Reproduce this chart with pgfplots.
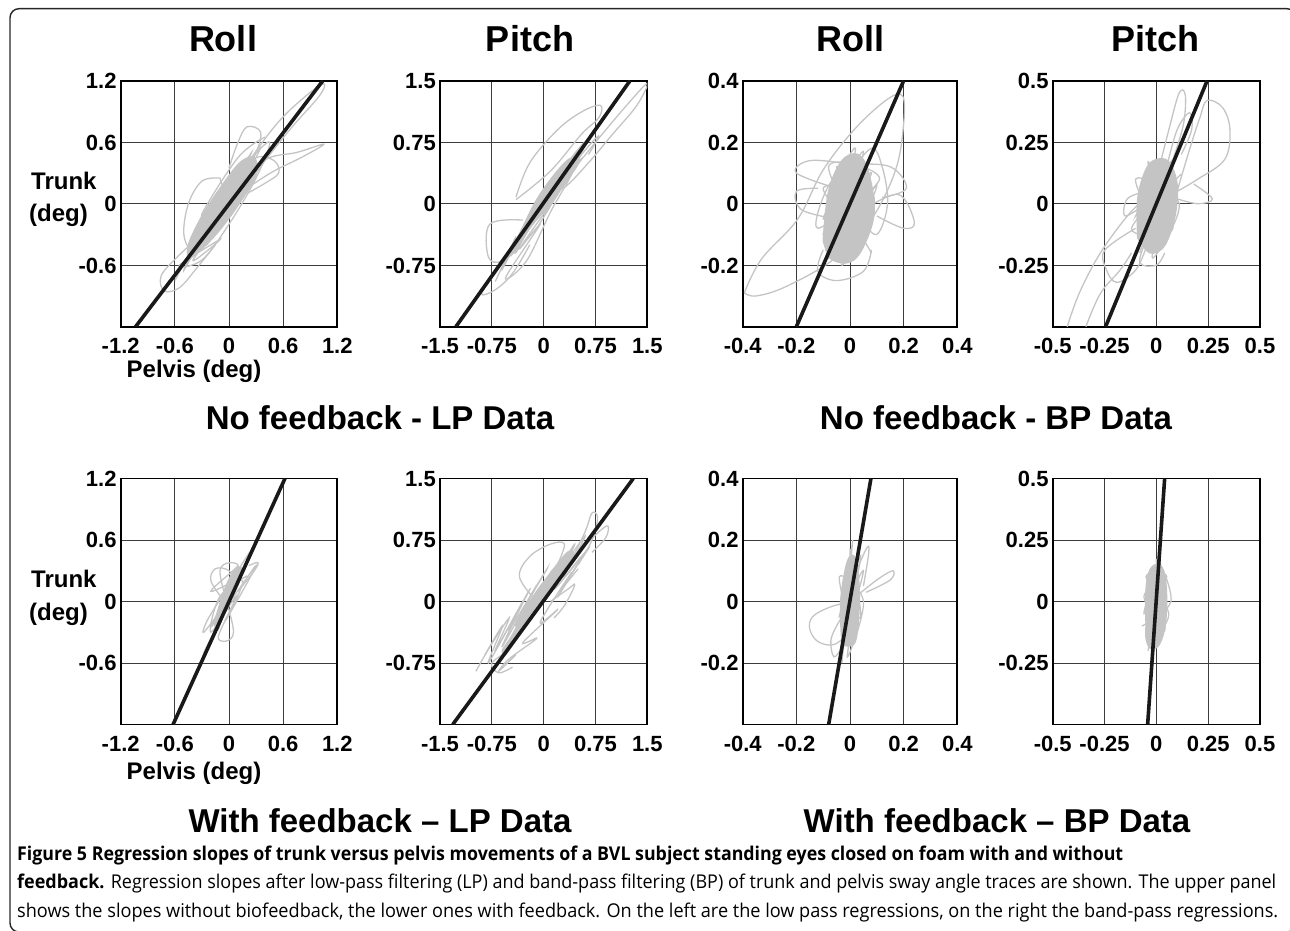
\documentclass[border=0pt]{standalone}
\usepackage{pgfplots}
\pgfplotsset{compat=1.18}
\usepackage{fontspec}
\setmainfont{Liberation Sans}
\newfontfamily\capfont{Open Sans}
\definecolor{tracec}{RGB}{196,196,196}
\definecolor{gridc}{RGB}{60,60,60}
\definecolor{regc}{RGB}{25,25,25}
\pgfplotsset{
 panel/.style={scale only axis, anchor=south west, axis line style={line width=1.7pt},
   grid=major, major grid style={gridc, line width=0.9pt}, major tick length=0pt,
   typeset ticklabels with strut,
   tick label style={font=\fontsize{22}{22}\selectfont\bfseries},
   xticklabel style={anchor=north, inner sep=0pt, yshift=-11pt},
   yticklabel style={anchor=east, inner sep=0pt, xshift=-4pt, yshift=-3.5pt}, clip=true},
 trc/.style={color=tracec, line width=1.3pt, smooth, tension=0.6, no marks},
 trf/.style={color=tracec, fill=tracec, line width=1.3pt, smooth, tension=0.6, no marks},
 reg/.style={color=regc, line width=3.6pt, no marks},
}
\begin{document}
\begin{tikzpicture}[x=1pt,y=1pt]
\path[use as bounding box] (0,0) rectangle (1290,930);
\begin{scope}
\clip (0,0) rectangle (1290,930);
\draw[line width=1.4pt, black!85, rounded corners=9pt] (10,-2) rectangle (1296,921.3);
\end{scope}

% ---------- Panel 1: Roll LP no feedback
\begin{axis}[panel, at={(120.7pt,603.3pt)}, width=216.6pt, height=246pt,
  xmin=-1.2,xmax=1.2,ymin=-1.2,ymax=1.2,
  xtick={-1.2,-0.6,0,0.6,1.2}, ytick={-1.2,-0.6,0,0.6,1.2},
  xticklabels={-1.2,-0.6,0,0.6,1.2}, yticklabels={,-0.6,0,0.6,1.2}]
\addplot[trc] coordinates {(0.0,0.1) (0.25,0.45) (0.55,0.8) (0.85,1.05) (1.05,1.17) (1.0,1.05) (0.7,0.75) (0.4,0.42) (0.15,0.12) (0.0,0.1)};
\addplot[trc] coordinates {(0.15,0.3) (0.45,0.45) (0.75,0.5) (1.05,0.58) (0.8,0.45) (0.5,0.32) (0.25,0.18)};
\addplot[trc] coordinates {(-0.1,0.25) (-0.3,0.22) (-0.45,0.0) (-0.5,-0.3) (-0.4,-0.45) (-0.2,-0.3) (-0.05,0.0) (-0.1,0.25)};
\addplot[trc] coordinates {(-0.3,-0.3) (-0.55,-0.5) (-0.75,-0.7) (-0.72,-0.85) (-0.55,-0.82) (-0.35,-0.62) (-0.15,-0.4)};
\addplot[trc] coordinates {(0.0,0.35) (0.1,0.6) (0.2,0.75) (0.35,0.7) (0.3,0.5) (0.15,0.3)};
\addplot[trc] coordinates {(0.2,0.1) (0.4,0.2) (0.55,0.3) (0.5,0.42) (0.3,0.45) (0.1,0.25)};
\addplot[trf] coordinates {(-0.45,-0.55) (-0.25,-0.4) (-0.05,-0.2) (0.15,0.05) (0.3,0.28) (0.28,0.45) (0.12,0.4) (-0.1,0.15) (-0.3,-0.12) (-0.45,-0.4) (-0.45,-0.55)};
\addplot[trc] coordinates {(-0.6,-0.75) (-0.35,-0.35) (-0.5,-0.65) (-0.2,-0.15) (-0.45,-0.45) (-0.05,0.1) (-0.3,-0.3) (0.1,0.35) (-0.15,-0.05) (0.25,0.5) (0.0,0.1) (0.35,0.55) (0.1,0.1) (0.3,0.3) (-0.1,-0.2) (0.2,0.15) (-0.25,-0.4) (0.05,-0.05) (-0.4,-0.55) (-0.1,-0.35) (-0.55,-0.6) (-0.3,-0.55) (0.0,-0.2) (0.3,0.25) (0.45,0.6) (0.2,0.4) (-0.1,0.05) (-0.3,-0.1) (0.1,0.45) (0.4,0.65)};
\addplot[reg] coordinates {(-1.035,-1.2) (1.04,1.2)};
\end{axis}

% ---------- Panel 2: Pitch LP no feedback
\begin{axis}[panel, at={(440pt,603.3pt)}, width=207.3pt, height=246pt,
  xmin=-1.5,xmax=1.5,ymin=-1.5,ymax=1.5,
  xtick={-1.5,-0.75,0,0.75,1.5}, ytick={-1.5,-0.75,0,0.75,1.5},
  xticklabels={-1.5,-0.75,0,0.75,1.5}, yticklabels={,-0.75,0,0.75,1.5}]
\addplot[trc] coordinates {(0.1,0.2) (0.45,0.45) (0.8,0.8) (1.15,1.15) (1.5,1.47) (1.35,1.2) (1.0,0.85) (0.65,0.5) (0.3,0.2) (0.1,0.2)};
\addplot[trc] coordinates {(-0.4,0.08) (-0.2,0.5) (0.2,0.9) (0.55,1.12) (0.82,1.2) (0.8,1.05) (0.55,0.85) (0.1,0.4) (-0.4,0.05)};
\addplot[trc] coordinates {(-0.3,-0.2) (-0.78,-0.25) (-0.8,-0.65) (-0.6,-0.7) (-0.3,-0.5)};
\addplot[trc] coordinates {(-0.4,-0.5) (-0.7,-0.85) (-0.9,-1.1) (-0.7,-1.05) (-0.45,-0.85) (-0.2,-0.5)};
\addplot[trc] coordinates {(0.45,0.5) (0.7,0.75) (0.8,0.82) (0.65,0.6)};
\addplot[trf] coordinates {(-0.4,-0.6) (-0.2,-0.3) (0.1,0.0) (0.35,0.3) (0.5,0.5) (0.38,0.55) (0.15,0.35) (-0.1,0.05) (-0.3,-0.28) (-0.45,-0.55) (-0.4,-0.6)};
\addplot[trc] coordinates {(-0.7,-0.95) (-0.4,-0.4) (-0.6,-0.8) (-0.2,-0.15) (-0.45,-0.6) (0.0,0.1) (-0.3,-0.35) (0.2,0.35) (-0.1,-0.05) (0.35,0.5) (0.05,0.1) (0.5,0.65) (0.2,0.2) (0.55,0.55) (0.1,0.0) (0.3,0.25) (-0.1,-0.3) (0.15,0.05) (-0.35,-0.55) (-0.05,-0.25) (-0.55,-0.9) (-0.25,-0.7) (0.1,-0.1) (0.4,0.35) (0.6,0.75) (0.3,0.45)};
\addplot[reg] coordinates {(-1.27,-1.5) (1.25,1.5)};
\end{axis}

% ---------- Panel 3: Roll BP no feedback
\begin{axis}[panel, at={(742.7pt,603.3pt)}, width=214.6pt, height=246pt,
  xmin=-0.4,xmax=0.4,ymin=-0.4,ymax=0.4,
  xtick={-0.4,-0.2,0,0.2,0.4}, ytick={-0.4,-0.2,0,0.2,0.4},
  xticklabels={-0.4,-0.2,0,0.2,0.4}, yticklabels={,-0.2,0,0.2,0.4}]
\addplot[trc] coordinates {(-0.394,-0.29) (-0.33,-0.18) (-0.195,-0.05) (-0.1,0.11) (0.02,0.245) (0.14,0.34) (0.196,0.35) (0.2,0.26) (0.17,0.11) (0.08,-0.05) (-0.06,-0.18) (-0.24,-0.27) (-0.35,-0.3) (-0.394,-0.29)};
\addplot[trc] coordinates {(-0.05,0.05) (-0.2,0.1) (-0.15,0.14) (0.0,0.13) (0.15,0.12) (0.21,0.05) (0.12,0.02)};
\addplot[trc] coordinates {(0.05,-0.02) (0.18,0.03) (0.24,-0.06) (0.2,-0.08) (0.1,-0.04)};
\addplot[trc] coordinates {(-0.05,-0.05) (-0.18,-0.02) (-0.2,0.04) (-0.12,0.05)};
\addplot[trc] coordinates {(-0.1,-0.15) (-0.12,-0.22) (-0.05,-0.25) (0.05,-0.22) (0.08,-0.15)};
\addplot[trc] coordinates {(0.0,0.1) (0.08,0.18) (0.12,0.12) (0.14,0.0) (0.1,-0.1) (0.04,-0.05)};
\addplot[trf] coordinates {(-0.1,-0.12) (-0.08,0.04) (-0.03,0.14) (0.03,0.16) (0.07,0.1) (0.09,-0.03) (0.05,-0.14) (0.0,-0.19) (-0.07,-0.18) (-0.1,-0.12)};
\addplot[trc] coordinates {(-0.08,-0.18) (0.0,0.15) (-0.06,-0.12) (0.05,0.17) (-0.1,-0.05) (0.08,0.1) (-0.09,-0.15) (0.03,0.05) (-0.03,-0.2) (0.09,0.02) (-0.1,0.05) (0.06,-0.12) (-0.05,0.12) (0.07,-0.05) (-0.07,0.0) (0.02,0.18) (-0.04,-0.1) (0.1,0.06) (-0.02,-0.17) (0.04,0.12) (-0.1,-0.1) (0.05,0.0) (-0.06,0.08) (-0.12,-0.08) (0.11,0.08) (-0.08,0.12) (0.08,-0.16)};
\addplot[reg] coordinates {(-0.2,-0.4) (0.2,0.4)};
\end{axis}

% ---------- Panel 4: Pitch BP no feedback
\begin{axis}[panel, at={(1052.7pt,603.3pt)}, width=207.3pt, height=246pt,
  xmin=-0.5,xmax=0.5,ymin=-0.5,ymax=0.5,
  xtick={-0.5,-0.25,0,0.25,0.5}, ytick={-0.5,-0.25,0,0.25,0.5},
  xticklabels={-0.5,-0.25,0,0.25,0.5}, yticklabels={,-0.25,0,0.25,0.5}]
\addplot[trc] coordinates {(0.0,0.1) (0.06,0.3) (0.11,0.45) (0.14,0.44) (0.13,0.32) (0.08,0.18)};
\addplot[trc] coordinates {(0.05,0.15) (0.1,0.3) (0.16,0.37) (0.17,0.3) (0.12,0.2)};
\addplot[trc] coordinates {(0.1,0.05) (0.2,0.1) (0.33,0.18) (0.355,0.3) (0.32,0.39) (0.245,0.42) (0.21,0.35) (0.16,0.22) (0.1,0.05)};
\addplot[trc] coordinates {(0.1,0.02) (0.2,0.0) (0.27,0.02) (0.18,0.08)};
\addplot[trc] coordinates {(-0.43,-0.5) (-0.37,-0.36) (-0.27,-0.2) (-0.14,-0.05) (-0.06,0.015)};
\addplot[trc] coordinates {(-0.34,-0.5) (-0.27,-0.365) (-0.175,-0.27) (-0.12,-0.2)};
\addplot[trc] coordinates {(-0.1,-0.1) (-0.25,-0.19) (-0.24,-0.27) (-0.19,-0.32) (-0.1,-0.27) (-0.05,-0.18)};
\addplot[trc] coordinates {(-0.05,-0.15) (-0.08,-0.24) (0.0,-0.25) (0.04,-0.2)};
\addplot[trc] coordinates {(-0.05,0.0) (-0.15,-0.05) (-0.14,0.02) (-0.05,0.05)};
\addplot[trf] coordinates {(-0.09,-0.14) (-0.09,0.02) (-0.05,0.14) (0.0,0.18) (0.06,0.17) (0.1,0.08) (0.09,-0.05) (0.04,-0.17) (-0.03,-0.2) (-0.09,-0.14)};
\addplot[trc] coordinates {(-0.08,-0.2) (0.05,0.15) (-0.1,-0.05) (0.08,0.18) (-0.07,0.0) (0.1,0.05) (-0.05,-0.15) (0.06,0.1) (-0.02,-0.22) (0.11,0.0) (-0.1,0.1) (0.04,-0.15) (-0.04,0.17) (0.08,-0.1) (-0.12,-0.1) (0.12,0.12)};
\addplot[reg] coordinates {(-0.245,-0.5) (0.245,0.5)};
\end{axis}

% ---------- Panel 5: Roll LP with feedback
\begin{axis}[panel, at={(120.7pt,205.5pt)}, width=216.6pt, height=246pt,
  xmin=-1.2,xmax=1.2,ymin=-1.2,ymax=1.2,
  xtick={-1.2,-0.6,0,0.6,1.2}, ytick={-1.2,-0.6,0,0.6,1.2},
  xticklabels={-1.2,-0.6,0,0.6,1.2}, yticklabels={,-0.6,0,0.6,1.2}]
\addplot[trf] coordinates {(-0.12,-0.28) (-0.04,-0.08) (0.08,0.12) (0.15,0.3) (0.08,0.33) (-0.02,0.18) (-0.1,-0.02) (-0.16,-0.22) (-0.12,-0.28)};
\addplot[trc] coordinates {(-0.28,-0.5) (0.05,0.1) (-0.2,-0.25) (0.1,0.3) (-0.15,-0.05) (0.25,0.5) (0.0,0.0) (0.3,0.35) (-0.05,-0.2) (0.15,0.2) (-0.2,0.1) (0.1,0.35) (-0.1,0.3) (0.05,-0.3) (-0.12,-0.35) (0.08,0.05) (-0.2,-0.3) (-0.1,0.05) (0.2,0.25)};
\addplot[trc] coordinates {(-0.05,0.0) (-0.2,0.2) (-0.15,0.32) (0.0,0.3) (0.1,0.15)};
\addplot[trc] coordinates {(0.1,0.1) (0.28,0.3) (0.32,0.38) (0.22,0.35)};
\addplot[trc] coordinates {(-0.1,-0.1) (-0.28,-0.3) (-0.25,-0.2) (-0.15,-0.05)};
\addplot[reg] coordinates {(-0.62,-1.2) (0.62,1.2)};
\end{axis}

% ---------- Panel 6: Pitch LP with feedback
\begin{axis}[panel, at={(440pt,205.5pt)}, width=207.3pt, height=246pt,
  xmin=-1.5,xmax=1.5,ymin=-1.5,ymax=1.5,
  xtick={-1.5,-0.75,0,0.75,1.5}, ytick={-1.5,-0.75,0,0.75,1.5},
  xticklabels={-1.5,-0.75,0,0.75,1.5}, yticklabels={,-0.75,0,0.75,1.5}]
\addplot[trf] coordinates {(-0.55,-0.65) (-0.25,-0.3) (0.05,0.05) (0.3,0.35) (0.45,0.55) (0.35,0.6) (0.1,0.35) (-0.2,0.0) (-0.45,-0.4) (-0.6,-0.6) (-0.55,-0.65)};
\addplot[trc] coordinates {(-0.98,-0.85) (-0.6,-0.3) (-0.8,-0.75) (-0.3,0.0) (-0.6,-0.55) (-0.1,0.2) (-0.4,-0.3) (0.1,0.35) (-0.2,-0.1) (0.3,0.55) (0.0,0.1) (0.45,0.7) (0.15,0.15) (0.55,0.55) (0.2,0.05) (0.4,0.35) (-0.05,-0.25) (0.2,-0.1) (-0.3,-0.5) (-0.1,-0.45) (-0.5,-0.7) (-0.65,-0.85) (-0.4,-0.65)};
\addplot[trc] coordinates {(-0.85,-0.65) (-0.5,-0.2) (-0.7,-0.6) (-0.2,0.15) (-0.5,-0.35) (0.05,0.4) (-0.25,-0.05) (0.35,0.6) (0.05,0.15) (0.6,0.8) (0.3,0.3) (0.65,0.65) (0.25,0.15) (0.5,0.4)};
\addplot[trc] coordinates {(0.4,0.5) (0.6,0.85) (0.7,1.08) (0.78,1.02) (0.7,0.75) (0.5,0.45)};
\addplot[trc] coordinates {(0.5,0.6) (0.8,0.85) (0.93,0.92) (0.9,0.78) (0.7,0.6)};
\addplot[trc] coordinates {(-0.1,0.0) (-0.35,0.3) (-0.2,0.55) (0.1,0.7) (0.3,0.7) (0.2,0.45)};
\addplot[trc] coordinates {(0.1,0.0) (0.35,0.15) (0.45,0.2) (0.3,-0.05) (0.15,-0.2)};
\addplot[trc] coordinates {(-0.5,-0.6) (-0.75,-0.75) (-0.65,-0.87) (-0.45,-0.8)};
\addplot[reg] coordinates {(-1.316,-1.5) (1.297,1.5)};
\end{axis}

% ---------- Panel 7: Roll BP with feedback
\begin{axis}[panel, at={(742.7pt,205.5pt)}, width=214.6pt, height=246pt,
  xmin=-0.4,xmax=0.4,ymin=-0.4,ymax=0.4,
  xtick={-0.4,-0.2,0,0.2,0.4}, ytick={-0.4,-0.2,0,0.2,0.4},
  xticklabels={-0.4,-0.2,0,0.2,0.4}, yticklabels={,-0.2,0,0.2,0.4}]
\addplot[trf] coordinates {(-0.03,-0.14) (-0.035,0.0) (-0.01,0.13) (0.02,0.14) (0.035,0.02) (0.02,-0.13) (-0.03,-0.14)};
\addplot[trc] coordinates {(-0.03,-0.2) (0.01,0.2) (-0.02,-0.1) (0.04,0.15) (-0.04,-0.05) (0.05,0.1) (-0.03,-0.15) (0.03,0.05) (-0.01,-0.18) (0.05,0.0) (-0.04,0.08) (0.02,-0.12) (0.0,0.17) (0.04,-0.05) (-0.02,0.02)};
\addplot[trc] coordinates {(0.0,0.05) (0.06,0.17) (0.07,0.16) (0.05,0.05)};
\addplot[trc] coordinates {(0.0,0.0) (0.1,0.07) (0.16,0.1) (0.15,0.07) (0.06,0.03)};
\addplot[trc] coordinates {(0.0,0.0) (-0.08,-0.02) (-0.14,-0.05) (-0.15,-0.09) (-0.12,-0.13) (-0.06,-0.14) (0.0,-0.1)};
\addplot[trc] coordinates {(-0.03,-0.05) (-0.07,-0.12) (-0.06,-0.18) (-0.03,-0.15)};
\addplot[reg] coordinates {(-0.0795,-0.4) (0.078,0.4)};
\end{axis}

% ---------- Panel 8: Pitch BP with feedback
\begin{axis}[panel, at={(1052.7pt,205.5pt)}, width=207.3pt, height=246pt,
  xmin=-0.5,xmax=0.5,ymin=-0.5,ymax=0.5,
  xtick={-0.5,-0.25,0,0.25,0.5}, ytick={-0.5,-0.25,0,0.25,0.5},
  xticklabels={-0.5,-0.25,0,0.25,0.5}, yticklabels={,-0.25,0,0.25,0.5}]
\addplot[trf] coordinates {(-0.05,-0.1) (-0.05,0.05) (-0.03,0.13) (0.01,0.15) (0.04,0.11) (0.05,0.0) (0.04,-0.11) (0.01,-0.18) (-0.03,-0.19) (-0.05,-0.15) (-0.05,-0.1)};
\addplot[trc] coordinates {(-0.04,-0.2) (0.02,0.16) (-0.06,-0.05) (0.05,0.1) (-0.05,0.1) (0.06,-0.05) (-0.03,-0.15) (0.03,0.05) (-0.06,0.02) (0.04,-0.12) (0.0,0.17) (0.07,0.0) (-0.07,-0.1)};
\addplot[reg] coordinates {(-0.042,-0.5) (0.04,0.5)};
\end{axis}

% ---------- Texts
\node[anchor=base] at (223,878) {\fontsize{36}{36}\selectfont\bfseries Roll};
\node[anchor=base] at (530,878) {\fontsize{36}{36}\selectfont\bfseries Pitch};
\node[anchor=base] at (850,878) {\fontsize{36}{36}\selectfont\bfseries Roll};
\node[anchor=base] at (1155,878) {\fontsize{36}{36}\selectfont\bfseries Pitch};

\node[anchor=base west, inner sep=0pt] at (31,740.7) {\fontsize{24}{24}\selectfont\bfseries Trunk};
\node[anchor=base west, inner sep=0pt] at (29,708.3) {\fontsize{24}{24}\selectfont\bfseries (deg)};
\node[anchor=base west, inner sep=0pt] at (31,342.5) {\fontsize{24}{24}\selectfont\bfseries Trunk};
\node[anchor=base west, inner sep=0pt] at (29,310) {\fontsize{24}{24}\selectfont\bfseries (deg)};
\node[anchor=base] at (194,552) {\fontsize{24}{24}\selectfont\bfseries Pelvis (deg)};
\node[anchor=base] at (194,151) {\fontsize{24}{24}\selectfont\bfseries Pelvis (deg)};

\node[anchor=base] at (380,500) {\fontsize{33}{33}\selectfont\bfseries No feedback - LP Data};
\node[anchor=base] at (996,500) {\fontsize{33}{33}\selectfont\bfseries No feedback - BP Data};
\node[anchor=base] at (380,98) {\fontsize{33}{33}\selectfont\bfseries With feedback -- LP Data};
\node[anchor=base] at (997,98) {\fontsize{33}{33}\selectfont\bfseries With feedback -- BP Data};

\node[anchor=base west, inner sep=0pt] at (17,70) {\resizebox{1106pt}{\height}{\capfont\fontsize{19}{19}\selectfont\bfseries Figure 5 Regression slopes of trunk versus pelvis movements of a BVL subject standing eyes closed on foam with and without}};
\node[anchor=base west, inner sep=0pt] at (17,41.5) {\resizebox{1259pt}{\height}{\capfont\fontsize{19}{19}\selectfont\textbf{feedback.} Regression slopes after low-pass filtering (LP) and band-pass filtering (BP) of trunk and pelvis sway angle traces are shown. The upper panel}};
\node[anchor=base west, inner sep=0pt] at (17,13) {\resizebox{1261pt}{\height}{\capfont\fontsize{19}{19}\selectfont shows the slopes without biofeedback, the lower ones with feedback. On the left are the low pass regressions, on the right the band-pass regressions.}};
\end{tikzpicture}
\end{document}
